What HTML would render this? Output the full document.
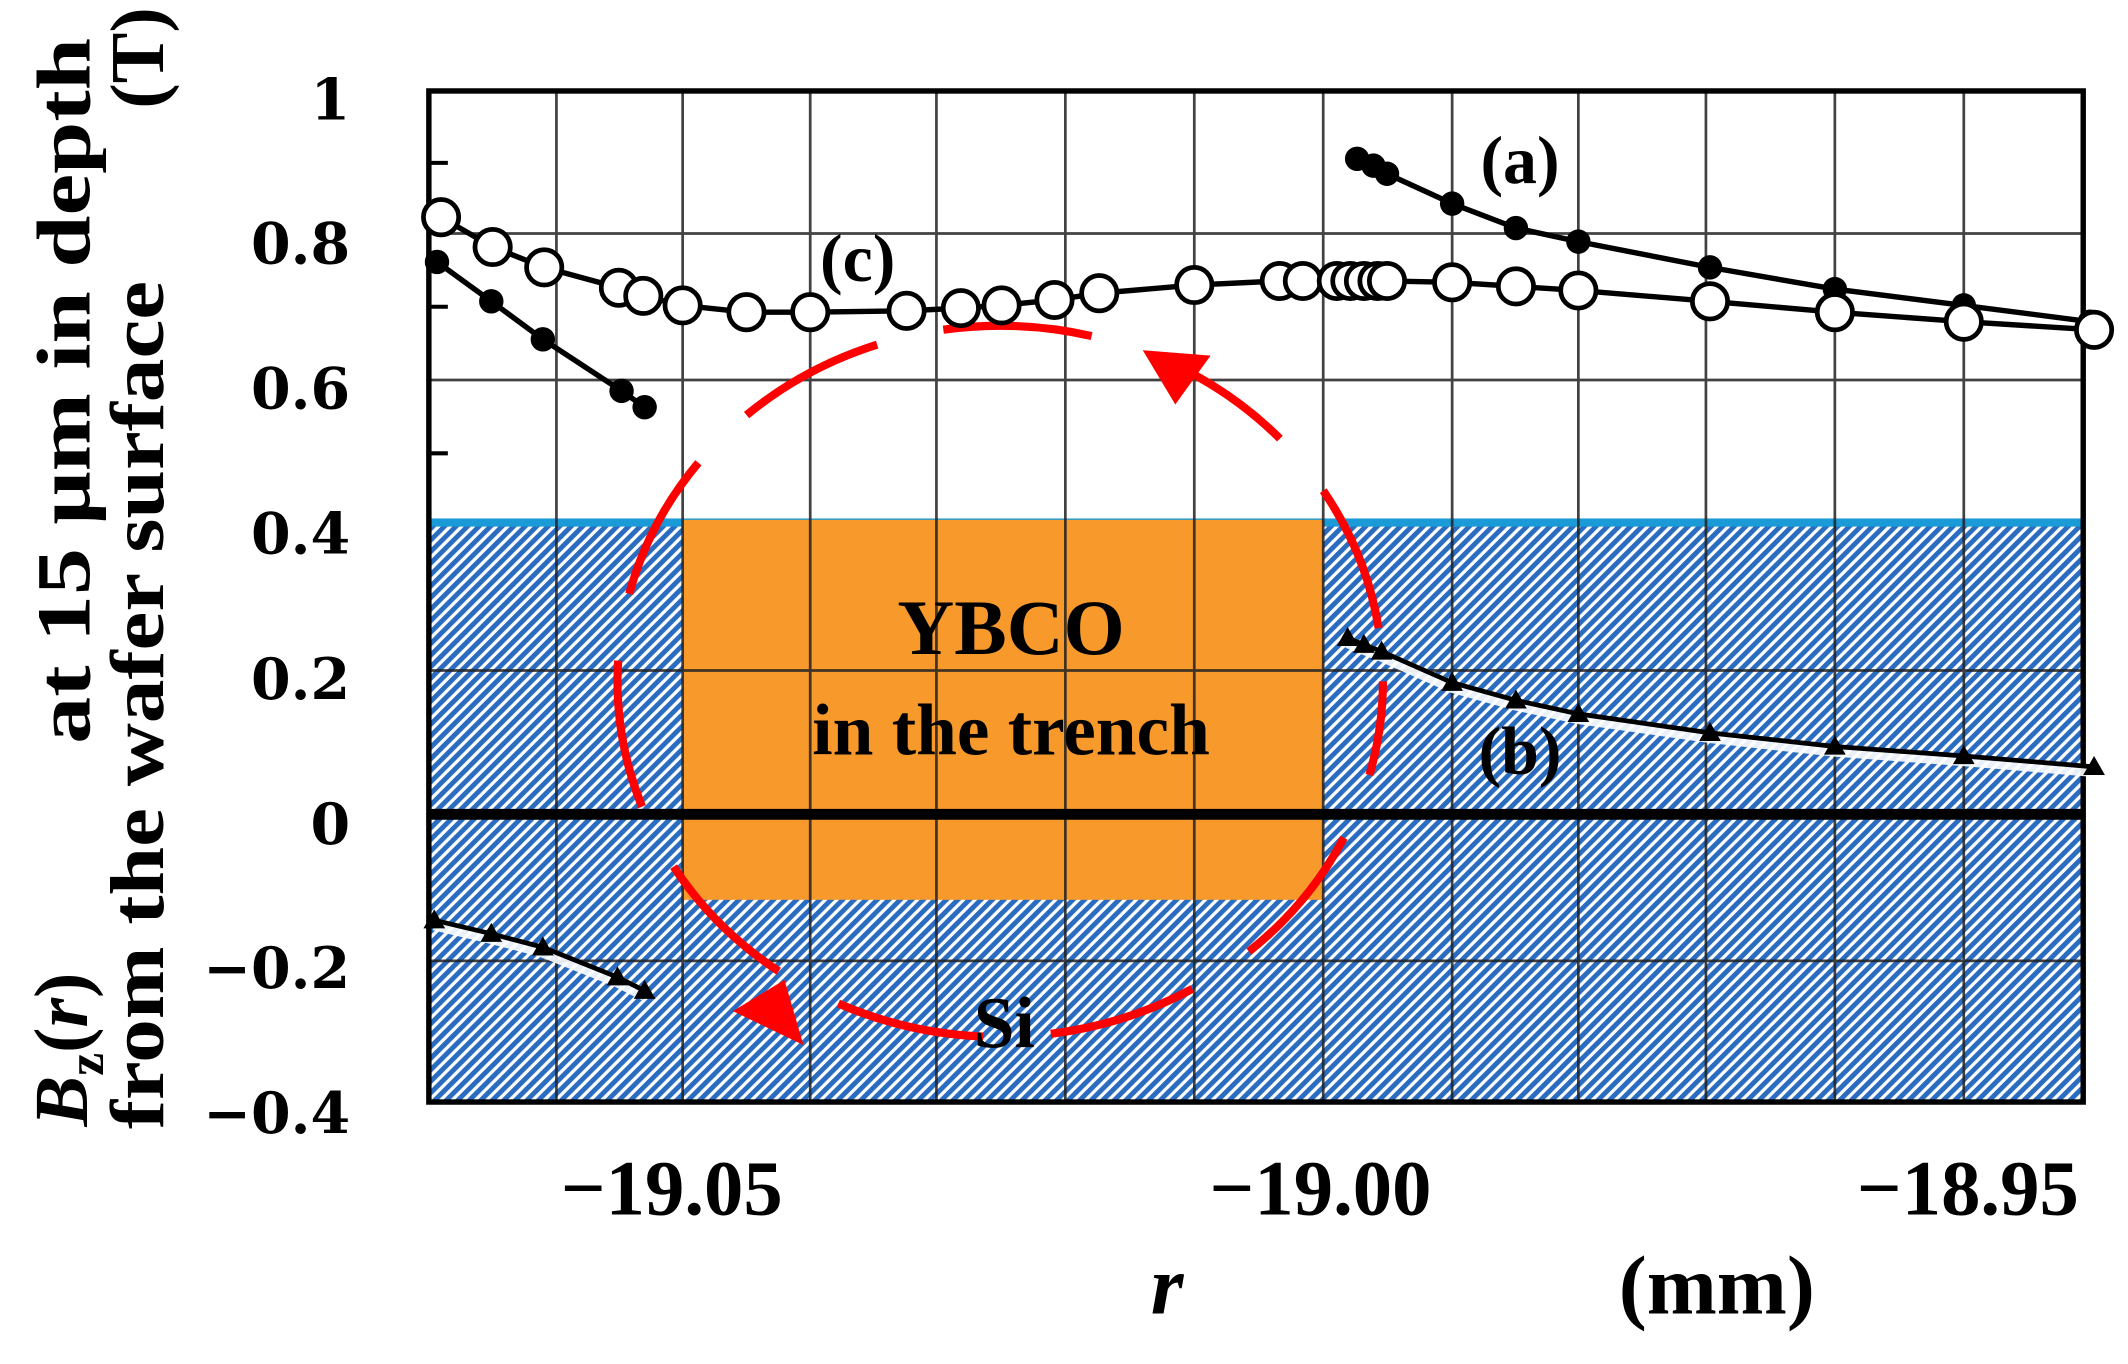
<!DOCTYPE html>
<html><head><meta charset="utf-8"><style>html,body{margin:0;padding:0;background:#fff}svg{display:block}.t{font-family:"Liberation Serif",serif;font-weight:bold}.d{font-family:"DejaVu Serif",serif;font-weight:bold}</style></head><body>
<svg width="2128" height="1364" viewBox="0 0 1568 1005" xmlns="http://www.w3.org/2000/svg">
<defs>
<pattern id="h" width="6" height="6" patternUnits="userSpaceOnUse" patternTransform="rotate(45)">
<rect width="6" height="6" fill="#ffffff"/><rect width="3.6" height="6" fill="#2a6cc0"/>
</pattern>
</defs>
<rect x="0" y="0" width="1568" height="1005" fill="#fff"/>
<rect x="316" y="386" width="1219" height="426" fill="url(#h)"/>
<rect x="316" y="382" width="1219" height="6" fill="#1a9ad6"/>
<rect x="503" y="383" width="472" height="280" fill="#f7992b"/>
<g stroke="#222" stroke-width="2" opacity="0.85">
<line x1="410" y1="67" x2="410" y2="812"/><line x1="503" y1="67" x2="503" y2="812"/>
<line x1="597" y1="67" x2="597" y2="812"/><line x1="690" y1="67" x2="690" y2="812"/>
<line x1="785" y1="67" x2="785" y2="812"/><line x1="880" y1="67" x2="880" y2="812"/>
<line x1="975" y1="67" x2="975" y2="812"/><line x1="1070" y1="67" x2="1070" y2="812"/>
<line x1="1163" y1="67" x2="1163" y2="812"/><line x1="1257" y1="67" x2="1257" y2="812"/>
<line x1="1352" y1="67" x2="1352" y2="812"/><line x1="1447" y1="67" x2="1447" y2="812"/>
<line x1="316" y1="172" x2="1535" y2="172"/><line x1="316" y1="280" x2="1535" y2="280"/>
<line x1="316" y1="494" x2="1535" y2="494"/><line x1="316" y1="708" x2="1535" y2="708"/>
</g>
<g stroke="#000" stroke-width="3">
<line x1="316" y1="120" x2="330" y2="120"/><line x1="316" y1="226" x2="330" y2="226"/>
<line x1="316" y1="334" x2="330" y2="334"/>
</g>
<line x1="316" y1="600" x2="1535" y2="600" stroke="#000" stroke-width="8"/>
<rect x="316" y="67" width="1219" height="745" fill="none" stroke="#000" stroke-width="4"/>
<ellipse cx="737" cy="502" rx="282" ry="262" fill="none" stroke="#ff0000" stroke-width="6" stroke-dasharray="110 50" stroke-dashoffset="40"/>
<polygon points="842,258 892,262 866,298" fill="#ff0000"/>
<polygon points="540,745 592,770 578,722" fill="#ff0000"/>
<g stroke="#000" stroke-width="4" fill="#000">
<polyline fill="none" points="322,193 362,222 400,250 458,288 475,300"/>
<polyline fill="none" points="1000,117 1012,122 1022,128 1070,150 1117,168 1163,178 1260,197 1352,213 1447,225 1540,237"/>
<g stroke="none">
<circle cx="322" cy="193" r="9"/><circle cx="362" cy="222" r="9"/><circle cx="400" cy="250" r="9"/><circle cx="458" cy="288" r="9"/><circle cx="475" cy="300" r="9"/>
<circle cx="1000" cy="117" r="9"/><circle cx="1012" cy="122" r="9"/><circle cx="1022" cy="128" r="9"/><circle cx="1070" cy="150" r="9"/><circle cx="1117" cy="168" r="9"/><circle cx="1163" cy="178" r="9"/><circle cx="1260" cy="197" r="9"/><circle cx="1352" cy="213" r="9"/><circle cx="1447" cy="225" r="9"/><circle cx="1540" cy="237" r="9"/>
</g></g>
<polyline fill="none" stroke="#000" stroke-width="4" points="325,160 363,182 401,197 456,212 474,218 503,225 550,230 597,230 668,229 708,227 738,225 777,221 810,216 880,210 943,207 1022,207 1070,208 1117,211 1163,214 1260,222 1352,230 1447,237 1543,243"/>
<g fill="#fff" stroke="#000" stroke-width="3.5">
<circle cx="325" cy="160" r="13"/><circle cx="363" cy="182" r="13"/><circle cx="401" cy="197" r="13"/><circle cx="456" cy="212" r="13"/><circle cx="474" cy="218" r="13"/><circle cx="503" cy="225" r="13"/><circle cx="550" cy="230" r="13"/><circle cx="597" cy="230" r="13"/><circle cx="668" cy="229" r="13"/><circle cx="708" cy="227" r="13"/><circle cx="738" cy="225" r="13"/><circle cx="777" cy="221" r="13"/><circle cx="810" cy="216" r="13"/><circle cx="880" cy="210" r="13"/><circle cx="943" cy="207" r="13"/><circle cx="960" cy="207" r="13"/><circle cx="985" cy="207" r="13"/><circle cx="995" cy="207" r="13"/><circle cx="1005" cy="207" r="13"/><circle cx="1015" cy="207" r="13"/><circle cx="1022" cy="207" r="13"/><circle cx="1070" cy="208" r="13"/><circle cx="1117" cy="211" r="13"/><circle cx="1163" cy="214" r="13"/><circle cx="1260" cy="222" r="13"/><circle cx="1352" cy="230" r="13"/><circle cx="1447" cy="237" r="13"/><circle cx="1543" cy="243" r="13"/>
</g>
<g stroke="#fff" stroke-width="9" fill="none" opacity="0.9">
<polyline points="993,473 1005,478 1018,483 1070,506 1117,519 1163,529 1260,543 1352,553 1447,560 1543,568"/>
<polyline points="320,681 362,691 400,701 455,723 475,733"/>
</g>
<g stroke="#000" stroke-width="3.5" fill="none">
<polyline points="993,470 1005,475 1018,480 1070,503 1117,516 1163,526 1260,540 1352,550 1447,557 1543,565"/>
<polyline points="320,678 362,688 400,698 455,720 475,730"/>
</g>
<g fill="#000">
<polygon points="993,462 1001,476 985,476"/><polygon points="1005,467 1013,481 997,481"/><polygon points="1018,472 1026,486 1010,486"/><polygon points="1070,495 1078,509 1062,509"/><polygon points="1117,508 1125,522 1109,522"/><polygon points="1163,518 1171,532 1155,532"/><polygon points="1260,532 1268,546 1252,546"/><polygon points="1352,542 1360,556 1344,556"/><polygon points="1447,549 1455,563 1439,563"/><polygon points="1543,557 1551,571 1535,571"/>
<polygon points="320,670 328,684 312,684"/><polygon points="362,680 370,694 354,694"/><polygon points="400,690 408,704 392,704"/><polygon points="455,712 463,726 447,726"/><polygon points="475,722 483,736 467,736"/>
</g>
<g class="t" font-size="50" fill="#000" text-anchor="middle">
<text x="1120" y="135">(a)</text>
<text x="632" y="207">(c)</text>
<text x="1120" y="570">(b)</text>
<text x="745" y="482" font-size="58">YBCO</text>
<text x="745" y="556" font-size="54">in the trench</text>
<text x="740" y="772" font-size="54">Si</text>
</g>
<g class="d" font-size="42" text-anchor="end" fill="#000">
<text x="258" y="88">1</text><text x="258" y="194">0.8</text><text x="258" y="301">0.6</text>
<text x="258" y="408">0.4</text><text x="258" y="515">0.2</text><text x="258" y="622">0</text>
<text x="258" y="728">−0.2</text><text x="258" y="835">−0.4</text>
</g>
<g class="t" font-size="58" text-anchor="middle" fill="#000">
<text x="495" y="895">−19.05</text><text x="973" y="895">−19.00</text><text x="1450" y="895">−18.95</text>
<text x="860" y="968" font-style="italic" font-size="62">r</text>
<text x="1265" y="968" font-size="62">(mm)</text>
</g>
<g class="t" font-size="56" fill="#000">
<text transform="translate(66,548) rotate(-90)" textLength="520" lengthAdjust="spacingAndGlyphs">at 15 μm in depth</text>
<text transform="translate(120,832) rotate(-90)" textLength="625" lengthAdjust="spacingAndGlyphs">from the wafer surface</text>
<text transform="translate(120,80) rotate(-90)">(T)</text>
<text transform="translate(64,830) rotate(-90)"><tspan font-style="italic">B</tspan><tspan font-size="38" dy="12">z</tspan><tspan dy="-12">(</tspan><tspan font-style="italic">r</tspan>)</text>
</g>
</svg>
</body></html>
